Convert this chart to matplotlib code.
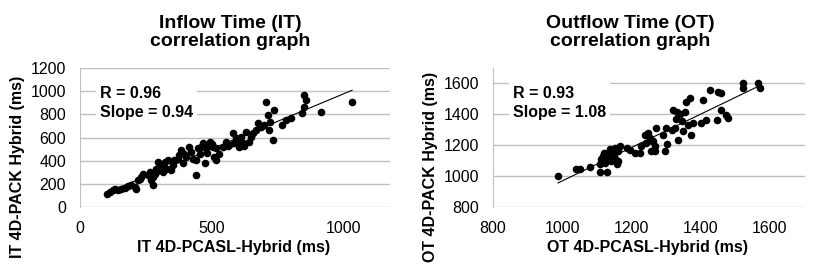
import numpy as np
import matplotlib
matplotlib.use("Agg")
import matplotlib.pyplot as plt

plt.rcParams["font.family"] = ["Liberation Sans", "DejaVu Sans"]

# Inflow time (IT): 4D-PCASL-Hybrid vs 4D-PACK Hybrid, ms
it_pcasl = [103, 113, 126, 132, 145, 157, 170, 182, 195, 208, 214, 220, 226, 233, 239,
            258, 264, 270, 277, 277, 283, 289, 296, 302, 308, 314, 321, 327, 333, 346,
            352, 358, 371, 377, 390, 384, 396, 403, 415, 421, 430, 438, 440, 447, 453,
            459, 465, 472, 478, 484, 491, 503, 509, 516, 528, 541, 553, 566, 579, 585,
            591, 604, 610, 616, 629, 642, 648, 654, 667, 673, 686, 698, 717, 711, 704,
            720, 730, 736, 767, 780, 799, 843, 849, 849, 855, 912, 1031,
            300, 318, 290, 560, 600, 620, 480, 500, 515]
it_pack = [116, 130, 150, 159, 145, 159, 168, 179, 194, 173, 159, 231, 246, 260, 289,
           275, 303, 231, 188, 260, 289, 332, 390, 361, 318, 303, 390, 332, 405, 318,
           361, 405, 419, 448, 376, 491, 462, 434, 520, 477, 419, 410, 275, 506, 462,
           520, 549, 382, 506, 535, 564, 520, 434, 405, 462, 520, 564, 535, 636, 549,
           592, 520, 607, 549, 650, 564, 607, 636, 665, 723, 694, 708, 665, 795, 910,
           737, 578, 838, 708, 752, 766, 809, 867, 968, 925, 824, 910,
           340, 345, 300, 530, 545, 530, 470, 540, 510]

# Outflow time (OT): 4D-PCASL-Hybrid vs 4D-PACK Hybrid, ms
ot_pcasl = [988, 1041, 1051, 1080, 1108, 1130, 1108, 1113, 1118, 1123, 1128, 1133, 1138,
            1142, 1147, 1152, 1157, 1162, 1162, 1167, 1152, 1186, 1196, 1210, 1225, 1229,
            1240, 1243, 1248, 1253, 1256, 1268, 1263, 1268, 1272, 1292, 1296, 1304, 1316,
            1321, 1325, 1333, 1335, 1345, 1350, 1354, 1359, 1364, 1369, 1372, 1378, 1402,
            1407, 1414, 1427, 1446, 1451, 1460, 1458, 1474, 1479, 1523, 1523, 1566, 1571,
            1140, 1150, 1120, 1155, 1330, 1340, 1260, 1300]
ot_pack = [1003, 1049, 1045, 1062, 1028, 1028, 1077, 1109, 1130, 1088, 1120, 1152, 1173,
           1120, 1141, 1109, 1077, 1098, 1162, 1194, 1184, 1184, 1167, 1152, 1152, 1194,
           1269, 1216, 1280, 1248, 1162, 1162, 1226, 1194, 1312, 1269, 1162, 1205, 1301,
           1429, 1312, 1418, 1237, 1354, 1290, 1418, 1482, 1333, 1504, 1269, 1344, 1344,
           1493, 1365, 1557, 1365, 1546, 1536, 1429, 1397, 1376, 1600, 1572, 1600, 1572,
           1100, 1130, 1150, 1160, 1370, 1400, 1230, 1310]

panels = [
    dict(x=it_pcasl, y=it_pack, title="Inflow Time (IT)\ncorrelation graph",
         xlabel="IT 4D-PCASL-Hybrid (ms)", ylabel="IT 4D-PACK Hybrid (ms)",
         stats="R = 0.96\nSlope = 0.94", xlim=(0, 1175), ylim=(0, 1200),
         xticks=[0, 500, 1000], yticks=np.arange(0, 1201, 200),
         rect=[0.098, 0.236, 0.380, 0.513], title_x=0.282, xlabel_x=0.286, ylabel_x=0.022),
    dict(x=ot_pcasl, y=ot_pack, title="Outflow Time (OT)\ncorrelation graph",
         xlabel="OT 4D-PCASL-Hybrid (ms)", ylabel="OT 4D-PACK Hybrid (ms)",
         stats="R = 0.93\nSlope = 1.08", xlim=(800, 1700), ylim=(800, 1700),
         xticks=np.arange(800, 1601, 200), yticks=np.arange(800, 1601, 200),
         rect=[0.604, 0.236, 0.382, 0.513], title_x=0.772, xlabel_x=0.794, ylabel_x=0.528),
]

fig = plt.figure(figsize=(8.16, 2.71), dpi=100)
grid_color = "#c0c0c0"

for p in panels:
    ax = fig.add_axes(p["rect"])
    x = np.array(p["x"], dtype=float)
    y = np.array(p["y"], dtype=float)
    ax.scatter(x, y, s=30, color="black", zorder=3, linewidths=0)
    k, b = np.polyfit(x, y, 1)
    xs = np.array([x.min(), x.max()])
    ax.plot(xs, k * xs + b, color="black", lw=0.8, zorder=4)

    ax.set_xlim(*p["xlim"])
    ax.set_ylim(*p["ylim"])
    ax.set_xticks(p["xticks"])
    ax.set_yticks(p["yticks"])
    ax.grid(axis="y", color=grid_color, lw=1.0)
    ax.set_axisbelow(True)
    for side in ["top", "right", "bottom"]:
        ax.spines[side].set_visible(False)
    ax.spines["left"].set_color(grid_color)
    ax.tick_params(length=0, labelsize=11.5, pad=10, colors="black")

    ax.text(0.064, 0.75, p["stats"], transform=ax.transAxes, fontsize=11.5,
            fontweight="bold", va="center", ha="left", linespacing=1.35, zorder=5,
            bbox=dict(facecolor="white", edgecolor="none", pad=3))

    fig.text(p["title_x"], 0.88, p["title"], ha="center", va="center",
             fontsize=14, fontweight="bold", linespacing=1.15)
    fig.text(p["xlabel_x"], 0.085, p["xlabel"], ha="center", va="center",
             fontsize=11.5, fontweight="bold")
    fig.text(p["ylabel_x"], 0.385, p["ylabel"], ha="center", va="center",
             rotation=90, fontsize=11.5, fontweight="bold")

fig.savefig("out.png", dpi=100)
